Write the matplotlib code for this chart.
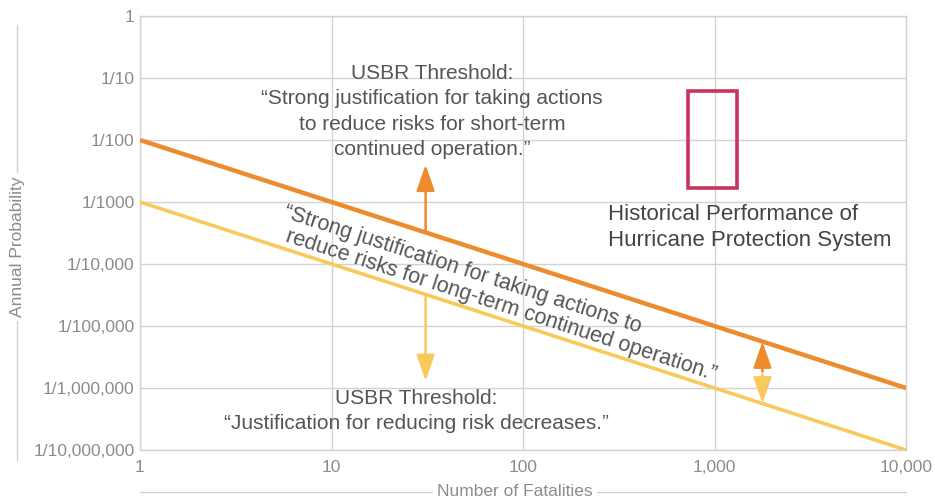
import numpy as np
import matplotlib
matplotlib.use("Agg")
import matplotlib.pyplot as plt
from matplotlib.patches import Rectangle
from matplotlib.lines import Line2D

plt.rcParams['font.family'] = ['Liberation Sans', 'DejaVu Sans']

# ---- data ----
fatalities = [1, 10000]
usbr_short_term = [1e-2, 1e-6]   # orange threshold line
usbr_long_term = [1e-3, 1e-7]    # yellow threshold line

x_ticks = [1, 10, 100, 1000, 10000]
x_tick_labels = ["1", "10", "100", "1,000", "10,000"]
y_ticks = [1, 1e-1, 1e-2, 1e-3, 1e-4, 1e-5, 1e-6, 1e-7]
y_tick_labels = ["1", "1/10", "1/100", "1/1000", "1/10,000", "1/100,000",
                 "1/1,000,000", "1/10,000,000"]

# historical performance box (fatalities range, probability range)
hist_x = [727, 1310]
hist_y = [1 / 595, 1 / 16.2]

# big double arrow (x, orange tip, yellow tip)
big_arrow_x = 31
big_arrow_up_tip = 4.0e-3
big_arrow_down_tip = 1.3e-6
# small double arrow
small_arrow_x = 1780
small_arrow_mid = 1.74e-6

ORANGE = "#EE8B2C"
YELLOW = "#F9C95C"
RED = "#C9345C"
GRID = "#D2D2D2"
TEXT = "#555555"
TICK = "#8C8C8C"

W, H = 935, 501
fig = plt.figure(figsize=(W / 100, H / 100), dpi=100)
ax = fig.add_axes([140 / W, 1 - 450 / H, (906 - 140) / W, (450 - 16) / H])
ax.set_xscale("log")
ax.set_yscale("log")
ax.set_xlim(1, 10000)
ax.set_ylim(1e-7, 1)

ax.set_xticks(x_ticks)
ax.set_xticklabels(x_tick_labels)
ax.set_yticks(y_ticks)
ax.set_yticklabels(y_tick_labels)
ax.minorticks_off()
ax.tick_params(length=0, colors=TICK, labelsize=12.5)
ax.tick_params(axis="y", pad=4)
ax.tick_params(axis="x", pad=7)
ax.grid(True, color=GRID, lw=1)
for s in ax.spines.values():
    s.set_color(GRID)
    s.set_linewidth(1)
ax.set_axisbelow(True)


def px_x(px):
    return 10 ** ((px - 140) / 191.5)


def px_y(py):
    return 10 ** (-(py - 16) / 62)


# threshold lines
ax.plot(fatalities, usbr_short_term, color=ORANGE, lw=3.2, solid_capstyle="butt", zorder=3)
ax.plot(fatalities, usbr_long_term, color=YELLOW, lw=2.6, solid_capstyle="butt", zorder=3)

# historical performance box
ax.add_patch(Rectangle((hist_x[0], hist_y[0]), hist_x[1] - hist_x[0], hist_y[1] - hist_y[0],
                       fill=False, edgecolor=RED, lw=2.6, zorder=4))
ax.text(px_x(608), px_y(204),
        "Historical Performance of\nHurricane Protection System",
        ha="left", va="top", fontsize=16, color="#444444", linespacing=1.33)


def interp(xv, xs, ys):
    lx = np.log10(xs)
    ly = np.log10(ys)
    return 10 ** np.interp(np.log10(xv), lx, ly)


astyle = "-|>,head_length=1.15,head_width=0.4"
ys_big = interp(big_arrow_x, fatalities, usbr_short_term)
yl_big = interp(big_arrow_x, fatalities, usbr_long_term)
ax.annotate("", xy=(big_arrow_x, big_arrow_up_tip), xytext=(big_arrow_x, ys_big),
            arrowprops=dict(arrowstyle=astyle, color=ORANGE, lw=1.8,
                            shrinkA=0, shrinkB=0, mutation_scale=14), zorder=5)
ax.annotate("", xy=(big_arrow_x, big_arrow_down_tip), xytext=(big_arrow_x, yl_big),
            arrowprops=dict(arrowstyle=astyle, color=YELLOW, lw=1.8,
                            shrinkA=0, shrinkB=0, mutation_scale=14), zorder=5)

ys_small = interp(small_arrow_x, fatalities, usbr_short_term)
yl_small = interp(small_arrow_x, fatalities, usbr_long_term)
ax.annotate("", xy=(small_arrow_x, ys_small), xytext=(small_arrow_x, small_arrow_mid),
            arrowprops=dict(arrowstyle=astyle, color=ORANGE, lw=1.8,
                            shrinkA=1, shrinkB=0, mutation_scale=14), zorder=5)
ax.annotate("", xy=(small_arrow_x, yl_small), xytext=(small_arrow_x, small_arrow_mid),
            arrowprops=dict(arrowstyle=astyle, color=YELLOW, lw=1.8,
                            shrinkA=1, shrinkB=0, mutation_scale=14), zorder=5)

# texts
ax.text(px_x(432), px_y(64),
        "USBR Threshold:\n\u201cStrong justification for taking actions\n"
        "to reduce risks for short-term\ncontinued operation.\u201d",
        ha="center", va="top", fontsize=15, color=TEXT, linespacing=1.42)

ax.text(px_x(416), px_y(389),
        "USBR Threshold:\n\u201cJustification for reducing risk decreases.\u201d",
        ha="center", va="top", fontsize=15, color=TEXT, linespacing=1.42)

p1 = ax.transData.transform((fatalities[0], usbr_short_term[0]))
p2 = ax.transData.transform((fatalities[1], usbr_short_term[1]))
angle = np.degrees(np.arctan2(p2[1] - p1[1], p2[0] - p1[0]))
ax.text(px_x(283), px_y(217),
        "\u201cStrong justification for taking actions to",
        ha="left", va="baseline", rotation=angle, rotation_mode="anchor",
        fontsize=15.5, color=TEXT)
ax.text(px_x(285), px_y(241),
        "reduce risks for long-term continued operation.\u201d",
        ha="left", va="baseline", rotation=angle, rotation_mode="anchor",
        fontsize=15.5, color=TEXT)

# axis titles with rules
fig.add_artist(Line2D([17 / W, 17 / W], [1 - 460 / H, 1 - 25 / H],
                      color=GRID, lw=1, transform=fig.transFigure))
fig.text(18 / W, 1 - 247 / H, "Annual Probability", rotation=90, ha="center", va="center",
         fontsize=12.5, color=TICK, bbox=dict(facecolor="white", edgecolor="none", pad=3))
fig.add_artist(Line2D([140 / W, 906 / W], [1 - 492 / H, 1 - 492 / H],
                      color=GRID, lw=1, transform=fig.transFigure))
fig.text(515 / W, 1 - 492 / H, "Number of Fatalities", ha="center", va="center",
         fontsize=12.5, color=TICK, bbox=dict(facecolor="white", edgecolor="none", pad=3))

fig.savefig("out.png", dpi=100, facecolor="white")
